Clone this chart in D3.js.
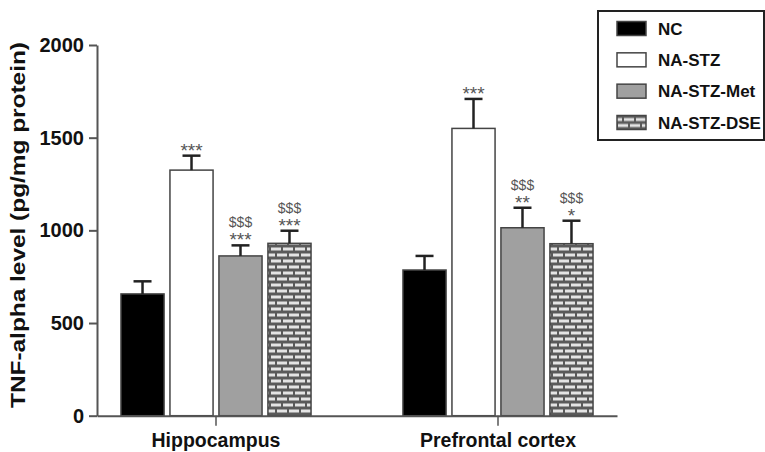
<!DOCTYPE html>
<html>
<head>
<meta charset="utf-8">
<script src="https://cdn.jsdelivr.net/npm/d3@7"></script>
<style>
  body { margin: 0; background: #fff; }
  svg { font-family: "Liberation Sans", Arial, sans-serif; }
</style>
</head>
<body>
<div id="chart"></div>
<script>
const groups = ['Hippocampus', 'Prefrontal cortex'];
const series = ['NC', 'NA-STZ', 'NA-STZ-Met', 'NA-STZ-DSE'];
const hippoMeans = [657, 1325, 862, 930];
const hippoErrors = [68, 78, 57, 68];
const pfcMeans = [786, 1550, 1014, 928];
const pfcErrors = [76, 159, 108, 124];
const hippoMarks = [[], ['***'], ['$$$', '***'], ['$$$', '***']];
const pfcMarks = [[], ['***'], ['$$$', '**'], ['$$$', '*']];
const yTicks = [0, 500, 1000, 1500, 2000];

const width = 765, height = 452;

const rows = [];
groups.forEach((g, gi) => {
  const means = gi === 0 ? hippoMeans : pfcMeans;
  const errs = gi === 0 ? hippoErrors : pfcErrors;
  const marks = gi === 0 ? hippoMarks : pfcMarks;
  series.forEach((s, si) => rows.push({ group: g, series: s, value: means[si], err: errs[si], marks: marks[si] }));
});

const svg = d3.select('#chart').append('svg')
    .attr('width', width)
    .attr('height', height);

const defs = svg.append('defs');
const brick = defs.append('pattern')
    .attr('id', 'brick')
    .attr('patternUnits', 'userSpaceOnUse')
    .attr('width', 12)
    .attr('height', 12);
brick.append('rect').attr('width', 12).attr('height', 12).attr('fill', '#5a5a5a');
brick.append('rect').attr('x', 1).attr('y', 1.5).attr('width', 10).attr('height', 3).attr('fill', '#e4e4e4');
brick.append('rect').attr('x', -5).attr('y', 7.5).attr('width', 10).attr('height', 3).attr('fill', '#e4e4e4');
brick.append('rect').attr('x', 7).attr('y', 7.5).attr('width', 10).attr('height', 3).attr('fill', '#e4e4e4');

const fills = d3.scaleOrdinal()
    .domain(series)
    .range(['#000000', '#ffffff', '#a0a0a0', 'url(#brick)']);

const x0 = d3.scaleBand()
    .domain(groups)
    .range([97, 617])
    .paddingInner(0.326)
    .paddingOuter(0.085);

const x1 = d3.scaleBand()
    .domain(series)
    .range([0, x0.bandwidth()])
    .paddingInner(0.12);

const y = d3.scaleLinear()
    .domain([0, 2000])
    .range([415.7, 45]);

// bars
svg.append('g')
  .selectAll('rect')
  .data(rows)
  .join('rect')
    .attr('x', d => x0(d.group) + x1(d.series))
    .attr('y', d => y(d.value))
    .attr('width', x1.bandwidth())
    .attr('height', d => y(0) - y(d.value))
    .attr('fill', d => fills(d.series))
    .attr('stroke', '#444')
    .attr('stroke-width', 1.5);

// error bars (upper only)
const eb = svg.append('g')
    .attr('stroke', '#222')
    .attr('stroke-width', 2.5)
  .selectAll('g')
  .data(rows)
  .join('g')
    .attr('transform', d => `translate(${x0(d.group) + x1(d.series) + x1.bandwidth() / 2},0)`);
eb.append('line')
    .attr('y1', d => y(d.value))
    .attr('y2', d => y(d.value + d.err));
eb.append('line')
    .attr('x1', -9).attr('x2', 9)
    .attr('y1', d => y(d.value + d.err))
    .attr('y2', d => y(d.value + d.err));

// significance marks
const sig = svg.append('g')
    .attr('fill', '#555')
    .attr('text-anchor', 'middle')
  .selectAll('g')
  .data(rows.filter(d => d.marks.length))
  .join('g')
    .attr('transform', d => `translate(${x0(d.group) + x1(d.series) + x1.bandwidth() / 2},${y(d.value + d.err)})`);
sig.append('text')
    .attr('y', 1)
    .style('font-size', '19px')
    .text(d => d.marks[d.marks.length - 1]);
sig.filter(d => d.marks.length > 1).append('text')
    .attr('y', -18)
    .style('font-size', '14px')
    .text(d => d.marks[0]);

// y axis
const yAxis = svg.append('g')
    .attr('transform', 'translate(97,0)')
    .call(d3.axisLeft(y).tickValues(yTicks).tickFormat(d3.format('d')).tickSize(8).tickPadding(5).tickSizeOuter(0));
yAxis.select('.domain').attr('stroke', '#555').attr('stroke-width', 2);
yAxis.selectAll('.tick line').attr('stroke', '#555').attr('stroke-width', 2);
yAxis.selectAll('.tick text')
    .attr('fill', '#111')
    .style('font-size', '20px')
    .style('font-weight', 'bold')
    .style('font-family', '"Liberation Sans", Arial, sans-serif');

// x axis
const xAxis = svg.append('g')
    .attr('transform', `translate(0,${y(0)})`)
    .call(d3.axisBottom(x0).tickSize(10).tickPadding(7).tickSizeOuter(0));
xAxis.select('.domain').attr('stroke', '#555').attr('stroke-width', 2);
xAxis.selectAll('.tick line').attr('stroke', '#555').attr('stroke-width', 1.5);
xAxis.selectAll('.tick text')
    .attr('fill', '#111')
    .style('font-size', '19.5px')
    .style('font-weight', 'bold')
    .style('font-family', '"Liberation Sans", Arial, sans-serif');

// y title
svg.append('text')
    .attr('transform', 'translate(25,225) rotate(-90)')
    .attr('text-anchor', 'middle')
    .attr('textLength', 366)
    .attr('lengthAdjust', 'spacingAndGlyphs')
    .attr('fill', '#111')
    .style('font-size', '21px')
    .style('font-weight', 'bold')
    .text('TNF-alpha level (pg/mg protein)');

// legend
const legend = svg.append('g');
legend.append('rect')
    .attr('x', 598).attr('y', 11)
    .attr('width', 166).attr('height', 129)
    .attr('fill', '#fff')
    .attr('stroke', '#222')
    .attr('stroke-width', 2);
const ly = d3.scalePoint().domain(series).range([28.5, 122.5]);
const li = legend.selectAll('g.item')
  .data(series)
  .join('g')
    .attr('class', 'item')
    .attr('transform', d => `translate(617,${ly(d)})`);
li.append('rect')
    .attr('y', -7)
    .attr('width', 29)
    .attr('height', 14)
    .attr('fill', d => fills(d))
    .attr('stroke', '#444')
    .attr('stroke-width', 1.5);
li.append('text')
    .attr('x', 41)
    .attr('dy', '0.36em')
    .attr('fill', '#111')
    .style('font-size', '17px')
    .style('font-weight', 'bold')
    .text(d => d);
</script>
</body>
</html>
